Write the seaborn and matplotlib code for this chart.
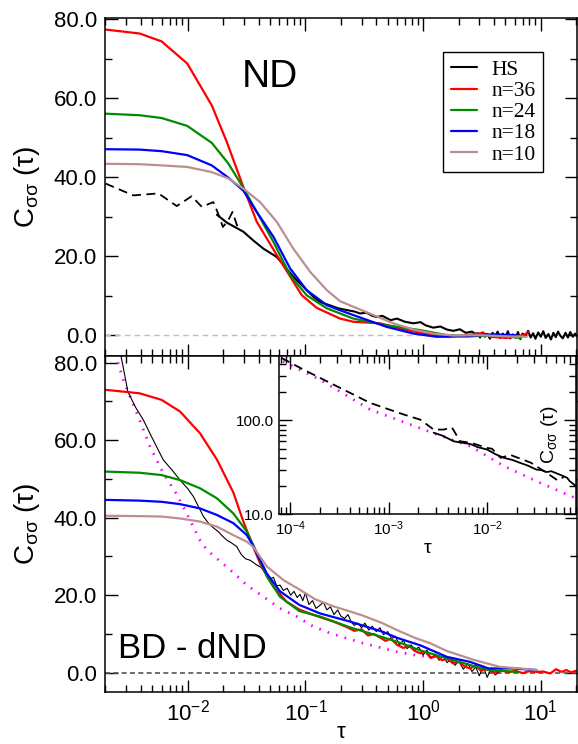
import matplotlib
matplotlib.use("Agg")
import matplotlib.pyplot as plt
import seaborn as sns
from matplotlib.ticker import (LogLocator, MultipleLocator, NullFormatter,
                               FormatStrFormatter)

# ---------------- data ----------------
# top panel (ND)
nd_red_tau = [0.002, 0.0039, 0.006, 0.0099, 0.016, 0.0215, 0.0297, 0.0386, 0.0571, 0.0932,
              0.125, 0.197, 0.255, 0.43, 0.73, 1.22, 1.59, 2.35, 3.25, 3.7, 5.1, 7.1, 7.9]
nd_red_val = [77.4, 76.4, 74.4, 68.8, 58.2, 48.9, 37.5, 28.7, 20.3, 10.1,
              6.9, 4.2, 3.4, 3.0, 1.3, 0.0, -0.4, 0.0, 0.6, -0.4, -0.7, 0.0, 0.8]
nd_green_tau = [0.002, 0.0039, 0.006, 0.0099, 0.016, 0.0221, 0.0297, 0.0386, 0.0535, 0.0741,
                0.1025, 0.152, 0.197, 0.255, 0.49, 0.94, 1.59, 2.5, 4.2, 6.7]
nd_green_val = [56.1, 55.7, 55.0, 53.0, 48.7, 43.5, 37.3, 31.2, 23.6, 15.2,
                10.1, 6.8, 5.5, 4.2, 2.5, 1.3, 0.0, -0.3, 0.0, -0.7]
nd_blue_tau = [0.002, 0.0039, 0.006, 0.0099, 0.016, 0.0221, 0.0297, 0.0386, 0.0535, 0.0741,
               0.1025, 0.152, 0.197, 0.255, 0.49, 0.83, 1.3, 2.35, 3.6, 6.2]
nd_blue_val = [47.1, 47.0, 46.6, 45.6, 43.0, 39.9, 36.6, 31.2, 24.9, 16.9,
               11.4, 7.6, 6.3, 5.1, 2.1, 0.4, -0.4, -0.3, 0.2, 0.0]
nd_brown_tau = [0.002, 0.0039, 0.006, 0.0099, 0.016, 0.0221, 0.0297, 0.0412, 0.0571, 0.079,
                0.11, 0.152, 0.197, 0.255, 0.378, 0.558, 0.83, 1.22, 1.81, 3.05, 5.1, 7.6]
nd_brown_val = [43.4, 43.3, 43.0, 42.6, 41.3, 39.7, 37.1, 33.7, 28.7, 21.9,
                16.0, 11.4, 8.6, 7.2, 5.1, 3.0, 1.4, 0.4, -0.1, 0.0, -0.3, -0.4]
hs_dash_tau = [0.002, 0.00345, 0.00564, 0.00807, 0.0108, 0.01316, 0.0165, 0.0179, 0.0199,
               0.0221, 0.024, 0.0268]
hs_dash_val = [38.4, 35.4, 35.9, 32.7, 35.2, 32.5, 33.7, 31.2, 27.4, 29.1, 31.2, 27.0]
hs_tau = [0.0177, 0.0215, 0.0297, 0.036, 0.044, 0.0571, 0.079, 0.117, 0.133, 0.16, 0.19,
          0.23, 0.26, 0.291, 0.33, 0.37, 0.404, 0.45, 0.53, 0.6, 0.7, 0.83, 0.95, 1.05,
          1.22, 1.4, 1.6, 1.81, 2.05, 2.3, 2.6, 2.8, 2.9, 3.05, 3.2, 3.35, 3.5, 3.7, 3.9,
          4.1, 4.3, 4.5, 4.75, 5.0, 5.25, 5.5, 5.8, 6.1, 6.4, 6.7, 7.0, 7.4, 7.8, 8.2,
          8.6, 9.0, 9.5, 10.0, 10.5, 11.0, 11.6, 12.2, 12.8, 13.4, 14.0, 14.7, 15.4,
          16.2, 17.0, 17.8, 18.7, 19.6, 20.2]
hs_val = [30.5, 28.5, 26.2, 24.0, 21.9, 19.8, 14.8, 9.7, 8.4, 7.6, 6.8,
          6.3, 6.0, 5.5, 5.7, 4.9, 4.6, 4.9, 3.8, 4.2, 3.4, 3.0, 3.3, 2.5,
          1.9, 2.2, 1.4, 1.1, 1.5, 0.6, 0.9, 0.3, 0.5, -0.6, 0.7, -0.4, 0.3, -0.9, 0.6,
          -0.3, 0.9, -0.7, 0.4, -0.5, 1.0, -0.8, 0.2, -0.6, 0.8, -1.0, 0.4, -0.3, 1.1, -0.6,
          0.5, -0.9, 0.7, -0.4, 1.0, -0.7, 0.3, -1.1, 0.6, -0.5, 0.9, -0.2, -0.8,
          0.6, -0.6, 0.8, -0.4, 0.4, -0.3]

# bottom panel (BD - dND)
bd_red_tau = [0.002, 0.0039, 0.006, 0.0086, 0.0127, 0.0177, 0.0244, 0.0297, 0.035, 0.0412,
              0.0535, 0.0693, 0.0887, 0.125, 0.173, 0.22, 0.26, 0.3, 0.34, 0.38, 0.43, 0.48,
              0.53, 0.6, 0.68, 0.76, 0.85, 0.95, 1.05, 1.15, 1.3, 1.45, 1.6, 1.8, 2.0, 2.25,
              2.5, 2.8, 3.1, 3.5, 4.0, 4.6, 5.3, 6.1, 7.0, 8.0, 9.2, 10.5, 12.0, 13.5, 15.0,
              16.5, 18.0, 20.0]
bd_red_val = [73.0, 72.1, 70.4, 67.4, 61.8, 55.0, 46.5, 39.0, 33.4, 28.2,
              22.2, 18.3, 16.3, 14.6, 13.2, 11.9, 10.8, 11.2, 9.6, 10.0, 9.1, 8.2,
              8.8, 7.2, 6.4, 7.0, 5.6, 5.0, 5.4, 3.9, 4.2, 3.2, 3.6, 2.4, 2.8, 1.6,
              1.1, 1.9, 0.5, 0.9, 0.0, 0.6, 0.1, 0.5, -0.1, 0.4, 0.2, 0.3, -0.2, 0.9, 0.2,
              0.7, 0.1, 0.5]
bd_green_tau = [0.002, 0.0039, 0.006, 0.0086, 0.0127, 0.0177, 0.0244, 0.0318, 0.036, 0.047,
                0.0608, 0.0887, 0.133, 0.239, 0.46, 0.6, 0.94, 1.59, 2.5, 3.6, 5.7, 6.5]
bd_green_val = [51.9, 51.6, 51.0, 49.7, 47.6, 45.0, 41.1, 36.4, 33.0, 24.8,
                19.6, 15.9, 14.5, 11.7, 9.1, 8.0, 5.8, 3.7, 2.0, 0.7, 0.3, 0.2]
bd_blue_tau = [0.002, 0.0039, 0.006, 0.0086, 0.0127, 0.0177, 0.0244, 0.0318, 0.036, 0.047,
               0.0608, 0.0887, 0.133, 0.239, 0.46, 0.6, 0.94, 1.59, 2.5, 3.6, 5.7, 9.2]
bd_blue_val = [44.6, 44.4, 44.1, 43.5, 42.4, 40.7, 38.6, 35.5, 32.7, 25.6,
               21.0, 17.5, 15.3, 13.2, 10.5, 9.0, 7.1, 4.1, 2.8, 1.1, 1.1, 0.7]
bd_brown_tau = [0.002, 0.0039, 0.006, 0.0086, 0.0127, 0.0177, 0.0244, 0.0318, 0.036, 0.047,
                0.065, 0.0887, 0.12, 0.17, 0.24, 0.31, 0.45, 0.6, 0.85, 1.15, 1.59, 2.7,
                4.5, 6.7, 9.2]
bd_brown_val = [40.5, 40.4, 40.3, 39.8, 39.0, 37.7, 35.5, 33.8, 32.5, 27.4,
                23.9, 21.5, 19.0, 17.2, 15.8, 14.7, 12.8, 11.0, 9.0, 7.6, 5.6, 3.3,
                1.5, 1.1, 0.7]
bd_black_tau = [0.0027, 0.0031, 0.0036, 0.0042, 0.005, 0.0062, 0.0075, 0.0086, 0.01, 0.0112,
                0.0125, 0.0136, 0.015, 0.0165, 0.018, 0.0198, 0.0215, 0.0235, 0.026, 0.0285,
                0.031, 0.034, 0.0386, 0.042, 0.047, 0.05, 0.0535, 0.057, 0.0608, 0.065,
                0.07, 0.075, 0.08, 0.085, 0.09, 0.095, 0.1, 0.107, 0.115, 0.123, 0.133,
                0.142, 0.152, 0.163, 0.175, 0.188, 0.2, 0.215, 0.23, 0.245, 0.26, 0.28,
                0.3, 0.32, 0.345, 0.37, 0.4, 0.43, 0.46, 0.5, 0.54, 0.58, 0.63, 0.68, 0.73,
                0.79, 0.85, 0.92, 1.0, 1.08, 1.17, 1.27, 1.37, 1.48, 1.6, 1.73, 1.87, 2.0,
                2.2, 2.4, 2.6, 2.8, 3.0, 3.25, 3.5, 3.8, 4.1, 4.5]
bd_black_val = [82.0, 72.5, 68.5, 65.2, 60.5, 54.9, 52.0, 49.7, 47.5, 45.4,
                42.5, 40.3, 38.6, 37.4, 36.5, 35.2, 34.2, 33.5, 32.6, 30.5,
                29.4, 29.0, 27.8, 27.2, 25.0, 24.2, 24.6, 22.4, 22.6, 21.2,
                21.8, 20.0, 21.0, 19.4, 20.2, 18.6, 20.6, 17.6, 18.6, 16.6, 17.4,
                18.2, 16.2, 17.0, 15.0, 16.2, 14.6, 14.0, 15.0, 13.1, 12.2, 12.8,
                11.6, 12.8, 11.0, 12.0, 10.6, 11.6, 9.8, 10.6, 8.8, 9.4, 7.2, 8.4, 6.2,
                7.2, 5.9, 6.6, 4.6, 5.8, 3.7, 4.8, 3.2, 4.4, 2.6, 3.6, 1.9, 3.0,
                0.9, 2.4, 0.3, 1.5, -0.8, 1.7, -1.2, 1.2, -0.6, 0.5]
bd_magenta_tau = [0.0023, 0.00284, 0.00369, 0.00479, 0.0062, 0.00807, 0.0098, 0.0127, 0.0145,
                  0.023, 0.0318, 0.044, 0.0608, 0.0842, 0.117, 0.162, 0.224, 0.31, 0.43,
                  0.6, 0.83, 1.14, 1.25]
bd_magenta_val = [84.5, 75.5, 67.0, 58.3, 51.5, 46.0, 41.1, 34.2, 31.7,
                  26.5, 22.6, 19.6, 16.6, 14.5, 11.9, 10.2, 8.9, 7.6, 6.5,
                  5.4, 4.6, 4.1, 3.8]

# inset (log-log)
in_dash_tau = [8.1e-5, 1.35e-4, 2.95e-4, 6.45e-4, 1.41e-3, 2.09e-3, 2.86e-3, 3.6e-3, 4.4e-3,
               5.3e-3, 6.8e-3, 0.01, 0.0112, 0.0137, 0.0172, 0.0278, 0.04, 0.052, 0.06]
in_dash_val = [464, 349, 232, 154, 116, 102, 80, 80, 84,
               60, 58, 51, 50, 40, 43, 35.5, 27.8, 23, 25]
in_solid_tau = [2.86e-3, 3.5e-3, 4.57e-3, 5.5e-3, 6.8e-3, 8.0e-3, 0.01, 0.012, 0.0148, 0.018,
                0.0214, 0.026, 0.0316, 0.036, 0.04, 0.045, 0.0509, 0.0593, 0.065, 0.069, 0.08]
in_solid_val = [74, 69, 60, 58, 56, 52, 49, 44, 40, 38,
                35.5, 33, 30, 29.5, 28.2, 28.8, 27.3, 25.6, 24.5, 22.6, 20]
in_magenta_tau = [8.4e-5, 1.99e-4, 6.44e-4, 3.09e-3, 6.8e-3, 0.0148, 0.0316, 0.08]
in_magenta_val = [427, 273, 131, 71, 53, 32.7, 22.6, 14.8]

legend_labels = ["HS", "n=36", "n=24", "n=18", "n=10"]
main_xticks = [1e-2, 1e-1, 1e0, 1e1]
main_yticks = [0, 20, 40, 60, 80]

# ---------------- style ----------------
sns.set_theme(style="ticks")
plt.rcParams['font.family'] = ['Liberation Sans', 'DejaVu Sans']
plt.rcParams['mathtext.fontset'] = 'custom'
plt.rcParams['mathtext.rm'] = 'Liberation Sans'
plt.rcParams['mathtext.it'] = 'Liberation Sans:italic'
plt.rcParams['mathtext.bf'] = 'Liberation Sans:bold'
plt.rcParams['axes.linewidth'] = 1.1
plt.rcParams['axes.unicode_minus'] = True
for k in ('text.color', 'axes.labelcolor', 'xtick.color', 'ytick.color', 'axes.edgecolor'):
    plt.rcParams[k] = 'black'

RED, GREEN, BLUE, BROWN, MAG = '#ff0000', '#008b00', '#0000ff', '#bc8f8f', '#ff00ff'
LW = 1.6

fig = plt.figure(figsize=(5.78, 7.44), dpi=100)
ax1 = fig.add_axes([0.1825, 0.5219, 0.8153, 0.4535])
ax2 = fig.add_axes([0.1825, 0.0703, 0.8153, 0.4516])
axin = fig.add_axes([0.4832, 0.3087, 0.5133, 0.2132])


def line(ax, x, y, color, lw=LW, ls='-', label=None, z=2):
    sns.lineplot(x=x, y=y, ax=ax, color=color, linewidth=lw, linestyle=ls,
                 estimator=None, sort=False, label=label, legend=False, zorder=z)


# ---- top panel ----
ax1.axhline(0, color='#dfb0b0', lw=1.0, ls=(0, (4, 3)), zorder=1)
line(ax1, hs_dash_tau, hs_dash_val, 'black', lw=1.3, ls=(0, (5, 3)))
line(ax1, hs_tau, hs_val, 'black', lw=1.5)
line(ax1, nd_red_tau, nd_red_val, RED)
line(ax1, nd_green_tau, nd_green_val, GREEN)
line(ax1, nd_blue_tau, nd_blue_val, BLUE)
line(ax1, nd_brown_tau, nd_brown_val, BROWN)

# ---- bottom panel ----
ax2.axhline(0, color='#555555', lw=1.2, ls=(0, (3, 2)), zorder=1)
line(ax2, bd_magenta_tau, bd_magenta_val, MAG, lw=2.0, ls=(0, (0.6, 2.6)))
line(ax2, bd_black_tau, bd_black_val, 'black', lw=0.8)
line(ax2, bd_red_tau, bd_red_val, RED)
line(ax2, bd_green_tau, bd_green_val, GREEN)
line(ax2, bd_blue_tau, bd_blue_val, BLUE)
line(ax2, bd_brown_tau, bd_brown_val, BROWN)

for ax, ylim in ((ax1, (-5.2, 80.25)), (ax2, (-4.9, 81.8))):
    ax.set_xscale('log')
    ax.set_xlim(0.002, 20.2)
    ax.set_ylim(*ylim)
    ax.set_xticks(main_xticks)
    ax.xaxis.set_minor_locator(LogLocator(base=10, subs=range(2, 10), numticks=20))
    ax.xaxis.set_minor_formatter(NullFormatter())
    ax.set_yticks(main_yticks)
    ax.yaxis.set_minor_locator(MultipleLocator(10))
    ax.yaxis.set_major_formatter(FormatStrFormatter('%.1f'))
    ax.tick_params(which='both', direction='in', top=True, right=True, width=1.0,
                   labelsize=16, colors='black')
    ax.tick_params(which='major', length=9, pad=6)
    ax.tick_params(which='minor', length=5)
    ax.set_xlabel('')
    ax.set_ylabel('')
    for s in ax.spines.values():
        s.set_visible(True)
        s.set_color('black')
ax1.tick_params(labelbottom=False)
ax2.set_xlabel('τ', fontsize=16, labelpad=-3)

# legend
hs_handle = plt.Line2D([], [], color='black', lw=1.5)
handles = [hs_handle] + [plt.Line2D([], [], color=c, lw=LW) for c in (RED, GREEN, BLUE, BROWN)]
leg = ax1.legend(handles, legend_labels, loc='upper right', bbox_to_anchor=(0.929, 0.899),
                 borderaxespad=0, frameon=True, fancybox=False, edgecolor='black',
                 framealpha=1, prop={'family': 'Liberation Serif', 'size': 15.5},
                 handlelength=1.25, handletextpad=0.65, labelspacing=0.05, borderpad=0.35)
leg.get_frame().set_linewidth(1.0)

# panel texts
fig.text(241.7 / 578, 1 - 86.7 / 744, 'ND', fontsize=28, ha='left', va='baseline')
fig.text(118 / 578, 1 - 658 / 744, 'BD - dND', fontsize=25, ha='left', va='baseline')
ylab = 'C$_{\\mathregular{σσ}}$ (τ)'
fig.text(27 / 578, 1 - 187 / 744, ylab, fontsize=20, rotation=90, ha='center', va='center')
fig.text(27 / 578, 1 - 524 / 744, ylab, fontsize=20, rotation=90, ha='center', va='center')

# ---- inset ----
axin.set_facecolor('white')
line(axin, in_magenta_tau, in_magenta_val, MAG, lw=2.0, ls=(0, (0.6, 2.6)))
line(axin, in_dash_tau, in_dash_val, 'black', lw=1.3, ls=(0, (5, 3)))
line(axin, in_solid_tau, in_solid_val, 'black', lw=1.3)
axin.set_xscale('log')
axin.set_yscale('log')
axin.set_xlim(7.7e-5, 0.08)
axin.set_ylim(10, 490)
axin.set_yticks([10, 100])
axin.set_yticklabels(['10.0', '100.0'])
axin.yaxis.set_minor_locator(LogLocator(base=10, subs=range(2, 10), numticks=20))
axin.yaxis.set_minor_formatter(NullFormatter())
axin.set_xticks([1e-4, 1e-3, 1e-2])
axin.xaxis.set_minor_locator(LogLocator(base=10, subs=range(2, 10), numticks=20))
axin.xaxis.set_minor_formatter(NullFormatter())
axin.tick_params(which='both', direction='in', top=True, right=True, width=1.0,
                 labelsize=11, colors='black')
axin.tick_params(which='major', length=9, pad=4)
axin.tick_params(which='minor', length=5)
axin.set_xlabel('τ', fontsize=14, labelpad=1)
axin.set_ylabel('')
for s in axin.spines.values():
    s.set_visible(True)
    s.set_color('black')
axin.text(0.912, 0.5, ylab, transform=axin.transAxes, fontsize=14, rotation=90,
          ha='center', va='center')

fig.savefig('out.png', dpi=100)
